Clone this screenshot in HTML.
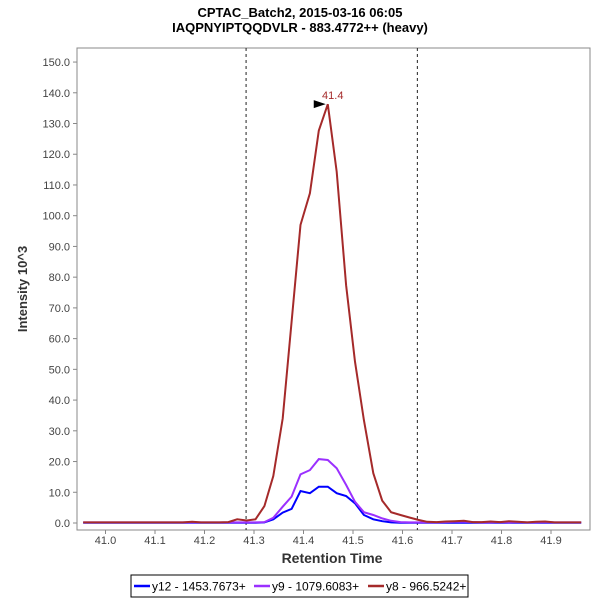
<!DOCTYPE html>
<html><head><meta charset="utf-8"><style>
body{margin:0;background:#fff;}
svg{display:block;font-family:"Liberation Sans",sans-serif;}
</style></head><body>
<svg id="chart" width="600" height="600">
<text x="300" y="17" text-anchor="middle" font-size="13" font-weight="bold">CPTAC_Batch2, 2015-03-16 06:05</text>
<text x="300" y="32" text-anchor="middle" font-size="13" font-weight="bold">IAQPNYIPTQQDVLR - 883.4772++ (heavy)</text>
<rect x="77" y="48" width="513" height="482" fill="#fff" stroke="#888"/>
<g id="yticks"></g><g id="xticks"></g>
<g id="marks"></g>
<text transform="translate(27,289) rotate(-90)" text-anchor="middle" font-size="13" font-weight="bold" fill="#333">Intensity 10^3</text>
<text x="332" y="563" text-anchor="middle" font-size="14" font-weight="bold" fill="#333">Retention Time</text>
<g>
<rect x="131" y="575" width="337" height="22" fill="#fff" stroke="#000"/>
<line x1="134" y1="586" x2="150" y2="586" stroke="#0000ff" stroke-width="2.5"/>
<text x="152" y="590.5" font-size="12">y12 - 1453.7673+</text>
<line x1="254" y1="586" x2="270" y2="586" stroke="#9b30ff" stroke-width="2.5"/>
<text x="272" y="590.5" font-size="12">y9 - 1079.6083+</text>
<line x1="368" y1="586" x2="384" y2="586" stroke="#a52a2a" stroke-width="2.5"/>
<text x="386" y="590.5" font-size="12">y8 - 966.5242+</text>
</g>
</svg>
<script>
const times=[40.955,40.973,40.992,41.010,41.028,41.046,41.065,41.083,41.101,41.120,41.138,41.156,41.175,41.193,41.211,41.230,41.248,41.266,41.285,41.303,41.321,41.339,41.358,41.376,41.394,41.413,41.431,41.449,41.467,41.486,41.504,41.522,41.541,41.559,41.577,41.596,41.614,41.632,41.650,41.669,41.687,41.705,41.724,41.742,41.760,41.778,41.797,41.815,41.833,41.852,41.870,41.888,41.907,41.925,41.943,41.961];
const y8=[0.2,0.2,0.2,0.2,0.2,0.2,0.2,0.2,0.2,0.2,0.2,0.2,0.4,0.2,0.2,0.2,0.3,1.2,0.8,1.2,5.5,15.3,34,65.5,97,107.3,127.7,136.3,114.3,77.4,52.5,33.5,16.2,7.3,3.5,2.6,1.8,1.0,0.4,0.3,0.5,0.6,0.7,0.3,0.3,0.5,0.3,0.6,0.4,0.2,0.4,0.5,0.2,0.2,0.2,0.2];
const y9=[0.2,0.2,0.2,0.2,0.2,0.2,0.2,0.2,0.2,0.2,0.2,0.2,0.2,0.2,0.2,0.2,0.2,0.2,0.2,0.2,0.3,1.7,5.3,8.6,15.8,17.2,20.8,20.5,17.8,12.4,6.9,3.5,2.6,1.5,0.7,0.3,0.2,0.2,0.2,0.2,0.3,0.4,0.4,0.3,0.2,0.2,0.3,0.2,0.3,0.2,0.2,0.3,0.2,0.2,0.2,0.2];
const y12=[0.1,0.1,0.1,0.1,0.1,0.1,0.1,0.1,0.1,0.1,0.1,0.1,0.1,0.1,0.1,0.1,0.1,0.1,0.1,0.1,0.2,1.2,3.4,4.6,10.4,9.7,11.8,11.8,9.7,8.8,6.4,2.6,1.2,0.6,0.2,0.1,0.1,0.1,0.1,0.1,0.1,0.1,0.1,0.1,0.1,0.1,0.1,0.1,0.1,0.1,0.1,0.1,0.1,0.1,0.1,0.1];
const yTicks=[0,10,20,30,40,50,60,70,80,90,100,110,120,130,140,150];
const xTicks=[41.0,41.1,41.2,41.3,41.4,41.5,41.6,41.7,41.8,41.9];
const boundaries=[41.284,41.630];
const peakTime=41.449, peakValue=136.3;
const NS='http://www.w3.org/2000/svg';
const X=t=>105.5+(t-41.0)*495;
const Y=v=>523-v*3.073;
function mk(tag,attrs,parent){const e=document.createElementNS(NS,tag);for(const k in attrs)e.setAttribute(k,attrs[k]);parent.appendChild(e);return e;}
const yt=document.getElementById('yticks'),xt=document.getElementById('xticks'),mg=document.getElementById('marks');
yTicks.forEach(v=>{
 const l=mk('line',{x1:73,x2:77,y1:Y(v),y2:Y(v),stroke:'#888'},yt);
 
 
 const t=mk('text',{x:70,y:Y(v)+4,'text-anchor':'end','font-size':11,fill:'#444'},yt);
 
 
 t.textContent=v.toFixed(1);
});
xTicks.forEach(v=>{
 const l=mk('line',{x1:X(v),x2:X(v),y1:530,y2:534,stroke:'#888'},xt);
 
 
 const t=mk('text',{x:X(v),y:544,'text-anchor':'middle','font-size':11,fill:'#444'},xt);
 
 
 t.textContent=v.toFixed(1);
});
boundaries.forEach(b=>{
 const l=mk('line',{x1:X(b),x2:X(b),y1:48,y2:530,stroke:'#222','stroke-dasharray':'3,3'},mg);
 
 
});
[[y12,'#0000ff','series-y12'],[y9,'#9b30ff','series-y9'],[y8,'#a52a2a','series-y8']].forEach(([d,c,n])=>{
 const p=mk('polyline',{points:d.map((v,i)=>X(times[i]).toFixed(1)+','+Y(v).toFixed(1)).join(' '),fill:'none',stroke:c,'stroke-width':2},mg);
 
 
});
const px=X(peakTime),py=Y(peakValue);
const ar=mk('polygon',{points:`${px-14},${py-4} ${px-14},${py+4} ${px-2},${py}`,fill:'#000'},mg);


const pl=mk('text',{x:px+5,y:py-5,'text-anchor':'middle','font-size':11,fill:'#a52a2a'},mg);


pl.textContent=peakTime.toFixed(1);
</script>
</body></html>
